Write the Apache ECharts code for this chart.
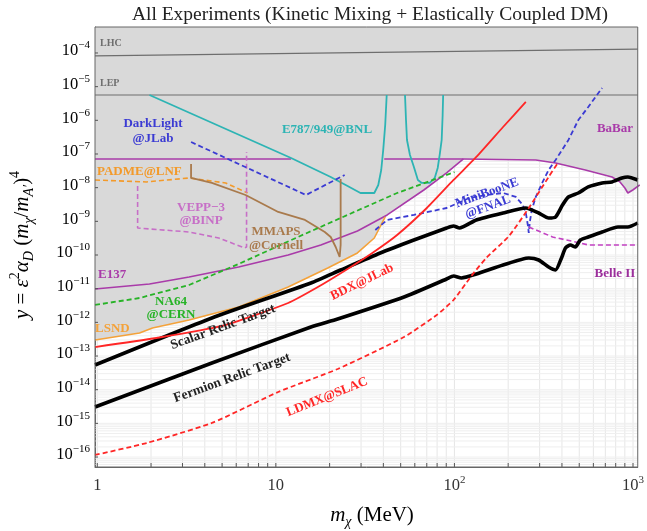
<!DOCTYPE html>
<html><head><meta charset="utf-8">
<script src="https://cdn.jsdelivr.net/npm/echarts@6/dist/echarts.min.js"></script>
<style>html,body{margin:0;padding:0;background:#fff}#c{width:647px;height:531px}</style>
</head><body><div id="c"></div>
<script>
// ---- axis ranges and ticks ----
const X_MIN = 0.971, X_MAX = 1063, Y_MIN = 5.06e-17, Y_MAX = 5.91e-4;
const xTickValues = [1, 10, 100, 1000];
const yTickValues = [1e-16,1e-15,1e-14,1e-13,1e-12,1e-11,1e-10,1e-9,1e-8,1e-7,1e-6,1e-5,1e-4];
const xGridValues = [1,2,3,4,5,6,7,8,9,10,20,30,40,50,60,70,80,90,100,200,300,400,500,600,700,800,900,1000];
const yGridMant = [1,2,3,4,5,6,7,8,9];
const yGridExps = [-17,-16,-15,-14,-13,-12,-11,-10,-9,-8,-7,-6,-5,-4];

// ---- curves (x in MeV, y dimensionless) ----
const lhcX = [0.971, 1063];            const lhcY = [8.15e-5, 1.31e-4];
const lepX = [0.971, 1063];            const lepY = [5.66e-6, 5.66e-6];
const e787aX = [1.96,12.17,20.29,25.21,29.77,35.59,37.46,38.91,39.93,40.96,41.76];
const e787aY = [5.66e-6,7.61e-8,2.08e-8,1.12e-8,6.95e-9,6.95e-9,1.20e-8,3.35e-8,1.32e-7,7.28e-7,5.66e-6];
const e787bX = [52.87,53.56,54.24,56.36,59.31,62.42,65.69,72.78,77.57,80.60,82.68,84.84,85.91,86.47];
const e787bY = [5.66e-6,1.02e-6,2.61e-7,9.35e-8,4.11e-8,1.69e-8,1.38e-8,1.38e-8,1.94e-8,3.84e-8,9.35e-8,2.61e-7,1.44e-6,5.66e-6];
const babarLX = [0.971, 12.17];        const babarLY = [7.11e-8, 7.11e-8];
const babarRX = [40.44,112.3,285.4,368.5,540.5,762.7,845.2,900.6,935.8,997.2,1091];
const babarRY = [7.11e-8,7.11e-8,6.64e-8,5.41e-8,3.35e-8,2.08e-8,1.48e-8,9.79e-9,6.95e-9,8.53e-9,1.20e-8];
const e137X = [0.971,1.96,3.267,6.186,11.72,17.86,28.64,42.02,67.40,90.41,112.3];
const e137Y = [9.79e-12,1.38e-11,2.22e-11,4.41e-11,1.00e-10,1.99e-10,5.16e-10,1.55e-9,8.53e-9,2.73e-8,7.11e-8];
const lsndX = [0.971,1.725,2.037,3.267,6.186,11.72,19.53,28.64,35.59,40.96];
const lsndY = [2.99e-13,4.83e-13,6.79e-13,1.17e-12,2.86e-12,1.12e-11,4.11e-11,1.15e-10,3.20e-10,1.35e-9];
const na64X = [0.971,1.725,3.267,6.186,13.31,25.21,47.75,100.1];
const na64Y = [3.28e-12,5.29e-12,1.29e-11,5.41e-11,3.43e-10,1.55e-9,6.95e-9,2.92e-8];
const bdxX = [0.971,2.143,4.978,11.72,17.19,25.21,34.69,47.75,70.03,98.86,132.6,187.2,251.1];
const bdxY = [1.85e-13,3.43e-13,7.80e-13,3.76e-12,1.12e-11,3.85e-11,1.15e-10,3.93e-10,2.49e-9,1.69e-8,8.15e-8,6.34e-7,3.51e-6];
const ldmxX = [0.971,1.887,4.383,10.31,22.19,52.21,79.57,98.86,124.4,150.7,202.1,260.9,336.9,382.8];
const ldmxY = [1.15e-16,2.61e-16,1.03e-15,8.55e-15,4.12e-14,3.67e-13,1.66e-12,4.61e-12,2.38e-11,8.15e-11,3.67e-10,2.49e-9,2.08e-8,5.79e-8];
const scalarX = [0.971,4.383,15.72,23.06,38.42,59.31,90.41,98.86,106.7,132.6,187.2,251.1,296.5,336.9,368.5,402.9,434.9,494.2,561.6,671.3,762.7,866.8,935.8,1063];
const scalarY = [5.41e-14,1.35e-12,1.48e-11,3.59e-11,1.15e-10,2.79e-10,6.34e-10,7.28e-10,6.34e-10,1.10e-9,1.77e-9,2.49e-9,1.77e-9,1.26e-9,1.35e-9,3.06e-9,5.29e-9,6.95e-9,1.05e-8,1.38e-8,1.48e-8,1.94e-8,2.08e-8,1.69e-8];
const fermionX = [0.971,4.383,15.72,22.19,52.21,90.41,98.86,109.5,132.6,187.2,260.9,296.5,336.9,368.5,397.6,418.6,446.2,475.6,507.0,561.6,671.3,823.6,935.8,1063];
const fermionY = [3.06e-15,6.21e-14,7.28e-13,1.26e-12,5.67e-12,1.94e-11,2.38e-11,2.08e-11,2.73e-11,5.05e-11,8.15e-11,7.11e-11,4.41e-11,3.59e-11,8.15e-11,1.62e-10,1.99e-10,1.73e-10,2.79e-10,3.43e-10,4.83e-10,6.79e-10,6.79e-10,8.93e-10];
const padmeX = [0.971,1.887,3.267,5.241,6.942];
const padmeY = [1.69e-8,1.48e-8,1.94e-8,1.38e-8,6.95e-9];
const veppX = [1.682,1.682,3.267,4.792,6.678,6.854,6.854];
const veppY = [1.12e-8,6.34e-10,4.83e-10,3.20e-10,1.62e-10,1.73e-10,1.15e-7];
const darkX = [3.351,14.75,24.27];
const darkY = [2.27e-7,6.06e-9,2.38e-8];
const mmapsX = [3.351,3.351,4.383,6.767,10.31,14.56,18.79,20.29,21.63,22.77,23.06,23.06];
const mmapsY = [5.05e-8,1.94e-8,1.38e-8,6.06e-9,1.90e-9,1.10e-9,4.83e-10,3.43e-10,1.73e-10,8.73e-11,1.99e-10,1.81e-8];
const mbX = [36.05,42.02,59.31,90.41,121.3,150.7,187.2,221.0,241.7,251.1,257.6,260.9,264.3,271.2,285.4,312.0,336.9,368.5,434.9,494.2,561.6,671.3];
const mbY = [5.53e-10,1.10e-9,1.55e-9,2.49e-9,4.94e-9,6.06e-9,6.95e-9,5.29e-9,3.06e-9,1.77e-9,7.79e-10,4.51e-10,9.57e-10,2.17e-9,5.29e-9,1.48e-8,3.35e-8,6.64e-8,2.61e-7,1.02e-6,2.49e-6,9.14e-6];
const belleX = [260.9,354.6,475.6,561.6,1063];
const belleY = [6.79e-10,3.43e-10,2.44e-10,1.99e-10,1.99e-10];

const zip = (xs, ys) => xs.map((x, i) => [x, ys[i]]);

// excluded-region lower envelope: LSND, then E137, then BaBar
const envelope = zip(lsndX, lsndY)
  .concat(zip(e137X, e137Y).filter(p => p[0] > lsndX[lsndX.length - 1]))
  .concat(zip(babarRX, babarRY).filter(p => p[0] > e137X[e137X.length - 1]));

const FONT = '"Liberation Serif", "Times New Roman", serif';
const C = {
  cyan: '#2db4b4', purple: '#a93ba9', pink: '#c76fc7', blue: '#3b3bd3', green: '#27b327',
  orange: '#f4a23a', padme: '#f39a2a', brown: '#a97a4c', red: '#ff2626', gray: '#6e6e6e',
  belleLine: '#c241c2', belleText: '#9c2f9c'
};

function line(name, xs, ys, color, width, dashed, z, smooth) {
  return {
    type: 'line', name, data: zip(xs, ys), showSymbol: false, symbol: 'none',
    smooth: smooth || false, z: z || 5, silent: true, animation: false,
    lineStyle: { color, width, type: dashed ? [5, 3] : 'solid' }
  };
}

const supRich = {
  b: { fontFamily: FONT, fontSize: 16.5, color: '#333', lineHeight: 22, verticalAlign: 'middle' },
  s: { fontFamily: FONT, fontSize: 11, color: '#333', lineHeight: 10, verticalAlign: 'top' }
};
function powLabel(v) {
  const e = Math.round(Math.log10(v));
  return '{b|10}{s|' + String(e).replace('-', '\u2212') + '}';
}

const yGridValues = [];
yGridExps.forEach(e => yGridMant.forEach(m => yGridValues.push(m * Math.pow(10, e))));

const chart = echarts.init(document.getElementById('c'), null, { renderer: 'canvas' });
const option = {
  animation: false,
  backgroundColor: '#fff',
  grid: { left: 95, right: 4, top: 27, bottom: 64, show: true, borderColor: '#666', borderWidth: 1, backgroundColor: 'transparent', z: 20 },
  xAxis: {
    type: 'log', logBase: 10, min: X_MIN, max: X_MAX, splitNumber: 3,
    axisLine: { show: true, lineStyle: { color: '#666' } },
    axisTick: { show: false },
    splitLine: { show: false },
    axisLabel: {
      margin: 8, showMinLabel: false, showMaxLabel: false,
      formatter: v => {
        const l = Math.log10(v); const e = Math.round(l);
        if (Math.abs(l - e) > 1e-6 || !xTickValues.some(t => Math.abs(Math.log10(t) - l) < 1e-6)) return '';
        if (e === 0) return '{b|1}';
        if (e === 1) return '{b|10}';
        return '{b|10}{s|' + e + '}';
      },
      rich: supRich
    }
  },
  yAxis: {
    type: 'log', logBase: 10, min: Y_MIN, max: Y_MAX,
    axisLine: { show: true, lineStyle: { color: '#666' } },
    axisTick: { show: false }, splitLine: { show: false }, axisLabel: { show: false }
  },
  series: [
    { // vertical grid + bottom ticks
      type: 'custom', z: 1, silent: true, animation: false,
      data: xGridValues.map(v => [v, 1e-10]),
      renderItem: (p, api) => {
        const pt = api.coord([api.value(0), api.value(1)]);
        const cs = p.coordSys;
        if (pt[0] < cs.x + 1 || pt[0] > cs.x + cs.width) return null;
        return { type: 'group', children: [
          { type: 'line', shape: { x1: pt[0], y1: cs.y, x2: pt[0], y2: cs.y + cs.height }, style: { stroke: '#e6e6e6', lineWidth: 1 } },
          { type: 'line', z2: 50, shape: { x1: pt[0], y1: cs.y + cs.height, x2: pt[0], y2: cs.y + cs.height - 4 }, style: { stroke: '#555', lineWidth: 1 } }
        ]};
      }
    },
    { // horizontal grid
      type: 'custom', z: 1, silent: true, animation: false,
      data: yGridValues.map(v => [10, v]),
      renderItem: (p, api) => {
        const pt = api.coord([api.value(0), api.value(1)]);
        const cs = p.coordSys;
        if (pt[1] < cs.y || pt[1] > cs.y + cs.height) return null;
        return { type: 'line', shape: { x1: cs.x, y1: pt[1], x2: cs.x + cs.width, y2: pt[1] }, style: { stroke: '#efefef', lineWidth: 1 } };
      }
    },
    { // excluded region
      type: 'line', data: envelope, showSymbol: false, symbol: 'none', z: 2, silent: true,
      lineStyle: { width: 0 }, areaStyle: { color: '#d9d9d9', opacity: 1, origin: 'end' }
    },
    { // y tick labels + ticks
      type: 'custom', z: 30, silent: true, clip: false, animation: false,
      data: yTickValues.map(v => [X_MIN, v]),
      renderItem: (p, api) => {
        const v = api.value(1);
        const pt = api.coord([api.value(0), v]);
        return { type: 'group', children: [
          { type: 'line', shape: { x1: pt[0], y1: pt[1], x2: pt[0] + 3, y2: pt[1] }, style: { stroke: '#555', lineWidth: 1 } },
          { type: 'text', x: pt[0] - 5, y: pt[1] - 2, style: { text: powLabel(v), rich: supRich, align: 'right', verticalAlign: 'middle' } }
        ]};
      }
    },
    line('LHC', lhcX, lhcY, C.gray, 1.2, false, 4),
    line('LEP', lepX, lepY, C.gray, 1.2, false, 4),
    line('BaBarL', babarLX, babarLY, C.purple, 1.6, false, 5),
    line('BaBarR', babarRX, babarRY, C.purple, 1.6, false, 5),
    line('E137', e137X, e137Y, C.purple, 1.6, false, 5),
    line('E787a', e787aX, e787aY, C.cyan, 1.8, false, 6),
    line('E787b', e787bX, e787bY, C.cyan, 1.8, false, 6),
    line('LSND', lsndX, lsndY, C.orange, 1.6, false, 5),
    line('PADME', padmeX, padmeY, C.padme, 1.6, true, 6),
    line('VEPP', veppX, veppY, C.pink, 1.6, true, 6),
    line('DarkLight', darkX, darkY, C.blue, 1.8, true, 6),
    line('MMAPS', mmapsX, mmapsY, C.brown, 1.8, false, 6),
    line('NA64', na64X, na64Y, C.green, 1.8, true, 6),
    line('MiniBooNE', mbX, mbY, C.blue, 1.8, true, 6),
    line('BelleII', belleX, belleY, C.belleLine, 1.6, true, 6),
    line('Scalar', scalarX, scalarY, '#000', 3.6, false, 7, 0.2),
    line('Fermion', fermionX, fermionY, '#000', 3.6, false, 7, 0.2),
    line('BDX', bdxX, bdxY, C.red, 1.8, false, 8, 0.2),
    line('LDMX', ldmxX, ldmxY, C.red, 1.8, true, 8, 0.2)
  ]
};

function lab(text, x, y, color, opts) {
  opts = opts || {};
  return {
    type: 'text', x, y, rotation: (opts.rot || 0) * Math.PI / 180, z: 100, silent: true,
    style: {
      text, fill: color, align: opts.align || 'center', verticalAlign: 'middle',
      font: 'bold ' + (opts.size || 13) + 'px ' + FONT
    }
  };
}
const ital = { fontFamily: FONT, fontSize: 21, fontStyle: 'italic', color: '#222', lineHeight: 28, verticalAlign: 'middle' };
const norm = { fontFamily: FONT, fontSize: 21, color: '#222', lineHeight: 28, verticalAlign: 'middle' };
const sub = { fontFamily: FONT, fontSize: 14, color: '#222', lineHeight: 14, verticalAlign: 'bottom' };
const subI = Object.assign({}, sub, { fontStyle: 'italic' });
const sup = { fontFamily: FONT, fontSize: 14, color: '#222', lineHeight: 14, verticalAlign: 'top' };

option.graphic = [
  { type: 'text', x: 370, y: 15, z: 100, style: { text: 'All Experiments (Kinetic Mixing + Elastically Coupled DM)', font: '19.5px ' + FONT, fill: '#222', align: 'center', verticalAlign: 'middle' } },
  { type: 'text', x: 372, y: 515, z: 100, style: { text: '{i|m}{s|\u03c7}{n| (MeV)}', rich: { i: ital, n: norm, s: subI }, align: 'center', verticalAlign: 'middle' } },
  { type: 'text', x: 22, y: 245, rotation: Math.PI / 2, z: 100, style: {
      text: '{i|y}{n| = }{i|\u03b5}{p|2}{i|\u03b1}{s|D}{n| (}{i|m}{s|\u03c7}{n|/}{i|m}{s|A\u2032}{n|)}{p|4}',
      rich: { i: ital, n: norm, s: subI, p: sup }, align: 'center', verticalAlign: 'middle' } },
  lab('LHC', 100, 43, C.gray, { align: 'left', size: 10 }),
  lab('LEP', 100, 83, C.gray, { align: 'left', size: 10 }),
  lab('DarkLight', 153, 124, C.blue),
  lab('@JLab', 153, 139, C.blue),
  lab('E787/949@BNL', 327, 130, C.cyan),
  lab('PADME@LNF', 97, 172, C.padme, { align: 'left' }),
  lab('VEPP\u22123', 201, 208, C.pink),
  lab('@BINP', 201, 221, C.pink),
  lab('MMAPS', 276, 232, C.brown),
  lab('@Cornell', 276, 246, C.brown),
  lab('E137', 98, 275, C.purple, { align: 'left' }),
  lab('NA64', 171, 302, C.green),
  lab('@CERN', 171, 315, C.green),
  lab('LSND', 95, 329, C.orange, { align: 'left' }),
  lab('Scalar Relic Target', 223, 327, '#222', { rot: 20, size: 13.5 }),
  lab('Fermion Relic Target', 232, 378, '#222', { rot: 20, size: 13.5 }),
  lab('LDMX@SLAC', 327, 397, C.red, { rot: 22 }),
  lab('BDX@JLab', 362, 282, C.red, { rot: 26 }),
  lab('MiniBooNE', 487, 193, C.blue, { rot: 20 }),
  lab('@FNAL', 488, 207, C.blue, { rot: 20 }),
  lab('BaBar', 615, 129, C.purple),
  lab('Belle II', 615, 274, C.belleText)
];

chart.setOption(option);
</script></body></html>
